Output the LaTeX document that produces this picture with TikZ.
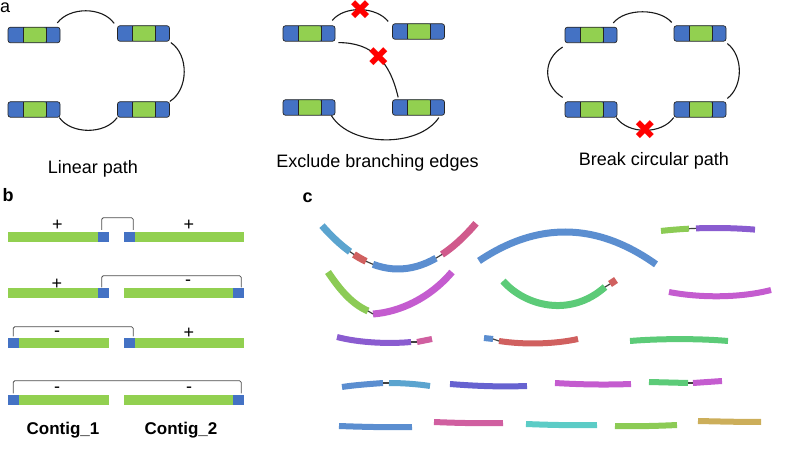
\documentclass[tikz,border=0pt]{standalone}
\usepackage{fontspec}
\setmainfont{Liberation Sans}
\newfontfamily\dejavu{DejaVu Sans}
\usetikzlibrary{calc}

\definecolor{ablue}{HTML}{4472C4}
\definecolor{agreen}{HTML}{92D050}
\definecolor{cLB}{HTML}{5BA4CF}
\definecolor{cRd}{HTML}{D0605F}
\definecolor{cBl}{HTML}{5B8ED0}
\definecolor{cPk}{HTML}{D05A8C}
\definecolor{cLm}{HTML}{8CCB55}
\definecolor{cPu}{HTML}{8A5CD0}
\definecolor{cMg}{HTML}{C45CCF}
\definecolor{cGn}{HTML}{5CCB78}
\definecolor{cIn}{HTML}{6662D0}
\definecolor{cCy}{HTML}{5CCCC6}
\definecolor{cGd}{HTML}{CCAE5A}
\definecolor{cPk2}{HTML}{D05FA0}

\begin{document}
\begin{tikzpicture}[x=1pt, y=-1pt,
  ctg/.style={draw=black!85, line width=0.7pt, fill=ablue, rounded corners=2.5pt,
    minimum width=52pt, minimum height=15.5pt, inner sep=0pt,
    path picture={
      \fill[agreen] ([xshift=15pt]path picture bounding box.south west) rectangle ([xshift=-14pt]path picture bounding box.north east);
      \draw[black!85, line width=0.7pt] ([xshift=15pt]path picture bounding box.south west) -- ([xshift=15pt]path picture bounding box.north west)
        ([xshift=-14pt]path picture bounding box.south east) -- ([xshift=-14pt]path picture bounding box.north east);}},
  arcline/.style={line width=1.1pt, black!90},
  xmark/.style={text=red, font=\dejavu\fontsize{27}{27}\selectfont, inner sep=0pt},
  bar/.style={fill=agreen, inner sep=0pt, minimum height=10pt},
  blueend/.style={fill=ablue, inner sep=0pt, minimum width=11pt, minimum height=10pt},
  bracket/.style={line width=0.8pt, black!70, rounded corners=1.5pt},
  lbl/.style={font=\fontsize{18}{21}\selectfont, inner sep=0pt},
  sign/.style={font=\fontsize{18}{21}\selectfont, inner sep=0pt},
  seg/.style={line width=6pt},
  link/.style={line width=1.2pt, black!75},
  declare function={arcA(\t)=269-0.0075*(\t-398)^2; arcB(\t)=232+0.0039*(\t-565)^2; arcC(\t)=228+0.001*(\t-715)^2;}]
  \useasboundingbox (0,0) rectangle (788,449);

  % panel a
  \node[lbl, anchor=base west] (la) at (0,13) {a};
  \node[ctg] (lp1) at (34,35) {};
  \node[ctg] (lp2) at (143.5,33.5) {};
  \node[ctg] (lp3) at (34,109.5) {};
  \node[ctg] (lp4) at (143.5,109.5) {};
  \draw[arcline] ([shift={(-3,-4)}]lp1.north east) .. controls +(12,-16) and +(-12,-17) .. ([shift={(-3,-2)}]lp2.north west);
  \draw[arcline] ([shift={(1,1)}]lp2.south east) .. controls +(18,12) and +(19,-12) .. (lp4.north east);
  \draw[arcline] ([shift={(-1,0)}]lp3.south east) .. controls +(12,17) and +(-12,17) .. (lp4.south west);
  \node[lbl, anchor=base] (lpt) at (93,174) {Linear path};

  \node[ctg] (eb1) at (309,33.5) {};
  \node[ctg] (eb2) at (418.5,31.5) {};
  \node[ctg] (eb3) at (309,107.5) {};
  \node[ctg] (eb4) at (418.5,107.5) {};
  \draw[arcline] ([shift={(-3,-5)}]eb1.north east) .. controls +(12,-15) and +(-12,-15) .. ([shift={(-4,-2)}]eb2.north west)
    node[xmark, pos=.5] (ebx1) {✖};
  \draw[arcline] ([shift={(3,1)}]eb1.south east) .. controls +(35,0) and +(-8,-35) .. ([shift={(6,-2)}]eb4.north west)
    node[xmark, pos=.5] (ebx2) {✖};
  \draw[arcline] ([shift={(-4,0)}]eb3.south east) .. controls +(20,32) and +(-20,30) .. ([shift={(-6,2)}]eb4.south east);
  \node[lbl, anchor=base] (ebt) at (377.5,168) {Exclude branching edges};

  \node[ctg] (bc1) at (591,35) {};
  \node[ctg] (bc2) at (700,33.5) {};
  \node[ctg] (bc3) at (591,109.5) {};
  \node[ctg] (bc4) at (700,109.5) {};
  \draw[arcline] ([shift={(-4,-4)}]bc1.north east) .. controls +(12,-15) and +(-12,-14) .. ([shift={(-2,-3)}]bc2.north west);
  \draw[arcline] ([shift={(-2,4)}]bc1.south west) .. controls +(-20,12) and +(-20,-12) .. ([shift={(-2,-4)}]bc3.north west);
  \draw[arcline] ([shift={(1,2)}]bc2.south east) .. controls +(16,12) and +(16,-12) .. ([shift={(1,-3)}]bc4.north east);
  \draw[arcline] ([shift={(-1,0)}]bc3.south east) .. controls +(12,17) and +(-12,17) .. (bc4.south west)
    node[xmark, pos=.5] (bcx) {✖};
  \node[lbl, anchor=base] (bct) at (654,166) {Break circular path};

  % panel b
  \node[lbl, font=\bfseries\fontsize{18}{21}\selectfont, anchor=base west] (lb) at (2.5,202) {b};
  \node[bar, minimum width=101pt, anchor=west] (r1c1) at (8,237) {};
  \node[bar, minimum width=120pt, anchor=west] (r1c2) at (124,237) {};
  \node[blueend, anchor=east] (r1e1) at (r1c1.east) {};
  \node[blueend, anchor=west] (r1e2) at (r1c2.west) {};
  \draw[bracket] ([shift={(-2,-2)}]r1e1.north) -- ++(0,-12) -| ([shift={(3.5,-2)}]r1e2.north);
  \node[sign] (r1s1) at (57.5,225) {+};
  \node[sign] (r1s2) at (189,225) {+};

  \node[bar, minimum width=101pt, anchor=west] (r2c1) at (8,293.5) {};
  \node[bar, minimum width=120pt, anchor=west] (r2c2) at (124,293.5) {};
  \node[blueend, anchor=east] (r2e1) at (r2c1.east) {};
  \node[blueend, anchor=east] (r2e2) at (r2c2.east) {};
  \draw[bracket] ([shift={(-2,-1)}]r2e1.north) -- ++(0,-11.5) -| ([shift={(2.5,-1)}]r2e2.north);
  \node[sign] (r2s1) at (57,284) {+};
  \node[sign] (r2s2) at (188,283) {-};

  \node[bar, minimum width=101pt, anchor=west] (r3c1) at (8,343.5) {};
  \node[bar, minimum width=120pt, anchor=west] (r3c2) at (124,343.5) {};
  \node[blueend, anchor=west] (r3e1) at (r3c1.west) {};
  \node[blueend, anchor=west] (r3e2) at (r3c2.west) {};
  \draw[bracket] ([shift={(-0.5,-2)}]r3e1.north) -- ++(0,-9.5) -| ([shift={(3.5,-2)}]r3e2.north);
  \node[sign] (r3s1) at (57,334) {-};
  \node[sign] (r3s2) at (189,333) {+};

  \node[bar, minimum width=101pt, anchor=west] (r4c1) at (8,400) {};
  \node[bar, minimum width=120pt, anchor=west] (r4c2) at (124,400) {};
  \node[blueend, anchor=west] (r4e1) at (r4c1.west) {};
  \node[blueend, anchor=east] (r4e2) at (r4c2.east) {};
  \draw[bracket] ([shift={(-0.5,-1.5)}]r4e1.north) -- ++(0,-12.5) -| ([shift={(2.5,-1.5)}]r4e2.north);
  \node[sign] (r4s1) at (57,390) {-};
  \node[sign] (r4s2) at (189,390) {-};

  \node[lbl, font=\bfseries\fontsize{17}{21}\selectfont, anchor=base] (ct1) at (63,434) {Contig\_1};
  \node[lbl, font=\bfseries\fontsize{17}{21}\selectfont, anchor=base] (ct2) at (181,434) {Contig\_2};

  % panel c
  \node[lbl, font=\bfseries\fontsize{18}{21}\selectfont, anchor=base west] (lc) at (302.5,203) {c};
  \foreach \p in {350,354,366,373,436,442}
    \coordinate (k\p) at (\p,{arcA(\p)});
  \foreach \a/\b/\c in {322/350/cLB, 354/366/cRd, 373/436/cBl, 442/476/cPk}
    \draw[seg, line width=7pt, color=\c] plot[domain=\a:\b, samples=14] (\x,{arcA(\x)});
  \draw[link] (k350) -- (k354) (k366) -- (k373) (k436) -- (k442);
  \draw[seg, line width=7pt, color=cBl] plot[domain=479:656, samples=40] (\x,{arcB(\x)});
  \coordinate (h1) at (689,{arcC(689)});
  \coordinate (h2) at (696,{arcC(696)});
  \draw[seg, color=cLm] plot[domain=661:689, samples=8] (\x,{arcC(\x)});
  \draw[seg, color=cPu] plot[domain=696:755, samples=12] (\x,{arcC(\x)});
  \draw[link] (h1) -- (h2);

  \coordinate (m1) at (368,311);
  \coordinate (m2) at (373,314);
  \draw[seg, line width=7pt, color=cLm] (328,272) .. controls (340,290) and (352,304) .. (m1);
  \draw[seg, line width=7pt, color=cMg] (m2) .. controls (400,312) and (430,298) .. (452,272);
  \draw[link] (m1) -- (m2);
  \coordinate (n1) at (605,287);
  \coordinate (n2) at (610,284);
  \draw[seg, line width=7pt, color=cGn] (503,281) .. controls (525,306) and (570,318) .. (n1);
  \draw[seg, line width=7pt, color=cRd] (n2) -- (616,280);
  \draw[link] (n1) -- (n2);
  \draw[seg, color=cMg] (669,292) .. controls (700,298) and (740,298) .. (771,290);

  \coordinate (p1) at (411,342);
  \coordinate (p2) at (417,342);
  \draw[seg, color=cPu] (337,337) .. controls (360,343) and (390,344) .. (p1);
  \draw[seg, color=cPk2] (p2) -- (432,339);
  \draw[link] (p1) -- (p2);
  \coordinate (q1) at (493,339);
  \coordinate (q2) at (499,341);
  \draw[seg, color=cBl] (484,338) -- (q1);
  \draw[seg, color=cRd] (q2) .. controls (525,345) and (555,344) .. (578,339);
  \draw[link] (q1) -- (q2);
  \draw[seg, color=cGn] (630,341) .. controls (660,338.5) and (700,338.5) .. (728,341);

  \coordinate (s1) at (383,383);
  \coordinate (s2) at (389,383);
  \draw[seg, color=cBl] (342,387) .. controls (355,385) and (370,384) .. (s1);
  \draw[seg, color=cLB] (s2) .. controls (402,383) and (417,384) .. (430,386);
  \draw[link] (s1) -- (s2);
  \draw[seg, color=cIn] (450,384) .. controls (475,386) and (500,387) .. (527,386);
  \draw[seg, color=cMg] (555,383) .. controls (580,384.5) and (605,385) .. (631,384);
  \coordinate (t1) at (688,383);
  \coordinate (t2) at (693,383);
  \draw[seg, color=cGn] (649,382) -- (t1);
  \draw[seg, color=cMg] (t2) -- (722,381);
  \draw[link] (t1) -- (t2);

  \draw[seg, color=cBl] (339,426) .. controls (365,427) and (390,427.5) .. (412,427);
  \draw[seg, color=cPk2] (434,422) .. controls (457,423) and (480,423.5) .. (503,423);
  \draw[seg, color=cCy] (526,424) .. controls (550,425) and (575,425.5) .. (597,425);
  \draw[seg, color=cLm] (615,426) .. controls (635,426.5) and (657,426) .. (677,425);
  \draw[seg, color=cGd] (698,421) .. controls (720,421.5) and (740,422) .. (761,422);
\end{tikzpicture}
\end{document}
